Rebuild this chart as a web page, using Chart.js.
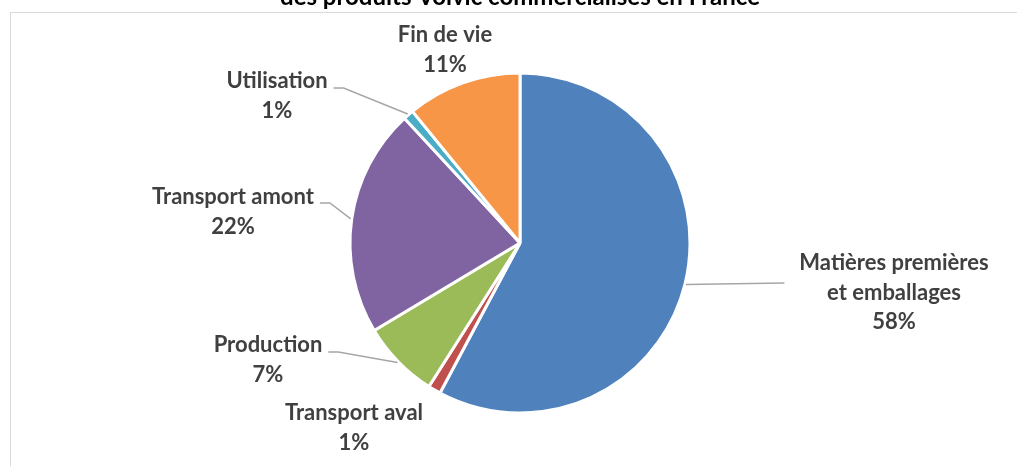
<!DOCTYPE html>
<html lang="fr">
  <head>
    <meta charset="UTF-8" />
    <title>Volvic - répartition</title>
    <script src="https://cdn.jsdelivr.net/npm/chart.js"></script>
    <style>
      html, body { margin: 0; padding: 0; background: #fff; overflow: hidden; }
      body { width: 1017px; height: 466px; position: relative; }
      .frame {
        position: absolute; left: 10px; top: 12px; width: 1020px; height: 470px;
        border-left: 1px solid #d9d9d9; border-top: 1px solid #d9d9d9;
      }
      .wrap { position: absolute; left: 0; top: 0; width: 1017px; height: 466px; }
    </style>
  </head>
  <body>
    <div class="frame"></div>
    <div class="wrap"><canvas id="pieChart"></canvas></div>

    <script>
      // data (percent of total)
      const categories = [
        ["Matières premières", "et emballages"],
        ["Transport aval"],
        ["Production"],
        ["Transport amont"],
        ["Utilisation"],
        ["Fin de vie"]
      ];
      const shares = [57.8, 1.2, 7.4, 21.7, 1.0, 10.9];
      const colors = ["#4F81BD", "#C0504D", "#9BBB59", "#8064A2", "#4BACC6", "#F79646"];
      // only the second line of the title is inside the picture
      const titleText = "des produits Volvic commercialisés en France";

      // label placement, relative to the pie centre (first text line centre)
      const labelPos = [
        { dx: 374, dy: 20, leader: "right", lineDy: 20 },
        { dx: -166, dy: 170, leader: null },
        { dx: -252, dy: 102, leader: "left", lineDy: 7 },
        { dx: -287, dy: -46, leader: "left", lineDy: 6 },
        { dx: -243, dy: -162, leader: "left", lineDy: 7 },
        { dx: -75, dy: -208, leader: null }
      ];

      const labelFont = "bold 22px Lato, 'Open Sans', sans-serif";
      const titleFont = "bold 24px Lato, 'Open Sans', sans-serif";
      const lineH = 29.5;

      const outsideLabels = {
        id: "outsideLabels",
        afterDatasetsDraw(chart) {
          const ctx = chart.ctx;
          const meta = chart.getDatasetMeta(0);
          const total = shares.reduce((a, b) => a + b, 0);
          ctx.save();

          // title, mostly cut off by the top edge
          ctx.font = titleFont;
          ctx.fillStyle = "#000000";
          ctx.textAlign = "center";
          ctx.textBaseline = "alphabetic";
          ctx.fillText(titleText, meta.data[0].x, 5);

          ctx.font = labelFont;
          ctx.textBaseline = "middle";
          meta.data.forEach(function (arc, i) {
            const p = labelPos[i];
            const cx = arc.x + p.dx;
            const cy = arc.y + p.dy;
            const lines = categories[i].concat([Math.round(shares[i] / total * 100) + "%"]);
            ctx.fillStyle = "#404040";
            lines.forEach(function (t, k) {
              ctx.fillText(t, cx, cy + k * lineH);
            });
            if (p.leader) {
              const mid = (arc.startAngle + arc.endAngle) / 2;
              const r = arc.outerRadius + 1;
              const sx = arc.x + Math.cos(mid) * r;
              const sy = arc.y + Math.sin(mid) * r;
              const w = Math.max.apply(null, lines.map(function (t) { return ctx.measureText(t).width; }));
              ctx.strokeStyle = "#a6a6a6";
              ctx.lineWidth = 1.5;
              ctx.beginPath();
              ctx.moveTo(sx, sy);
              if (p.leader === "left") {
                const ex = cx + ctx.measureText(lines[0]).width / 2 + 6;
                const ey = cy + p.lineDy;
                ctx.lineTo(ex + 10, ey);
                ctx.lineTo(ex, ey);
              } else {
                ctx.lineTo(cx - w / 2 - 15, cy + p.lineDy);
              }
              ctx.stroke();
            }
          });
          ctx.restore();
        }
      };

      const ctx = document.getElementById("pieChart").getContext("2d");
      const pieChart = new Chart(ctx, {
        type: "pie",
        data: {
          labels: categories.map(function (c) { return c.join(" "); }),
          datasets: [
            {
              data: shares,
              backgroundColor: colors,
              borderColor: "#ffffff",
              borderWidth: 3
            }
          ]
        },
        options: {
          responsive: true,
          maintainAspectRatio: false,
          animation: false,
          layout: {
            padding: { top: 71.5, bottom: 51.5, left: 348.5, right: 325.5 }
          },
          plugins: {
            legend: { display: false },
            tooltip: { enabled: false },
            title: { display: false }
          }
        },
        plugins: [outsideLabels]
      });
    </script>
  </body>
</html>
